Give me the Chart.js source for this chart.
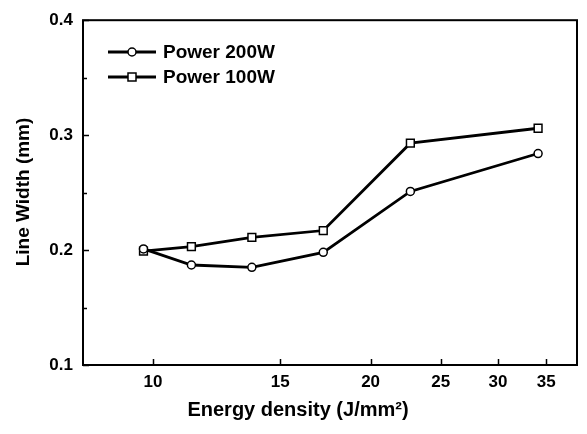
<!DOCTYPE html>
<html>
<head>
<meta charset="utf-8">
<script src="https://cdn.jsdelivr.net/npm/chart.js@4/dist/chart.umd.min.js"></script>
<style>
  html, body { margin: 0; padding: 0; background: #fff; }
  #c { display: block; }
</style>
</head>
<body>
<canvas id="c" width="587" height="434"></canvas>
<script>
// ---- data ----
const energyDensity = [9.7, 11.3, 13.7, 17.2, 22.7, 34.1];
const width200W = [0.201, 0.187, 0.185, 0.198, 0.251, 0.284];
const width100W = [0.199, 0.203, 0.211, 0.217, 0.293, 0.306];
const seriesNames = ['Power 200W', 'Power 100W'];
const xTickValues = [10, 15, 20, 25, 30, 35];
const yTickValues = [0.1, 0.2, 0.3, 0.4];
const yMinorTicks = [0.15, 0.25, 0.35];
const xTitle = 'Energy density (J/mm²)';
const yTitle = 'Line Width (mm)';

const FONT = '"Liberation Sans", Arial, Helvetica, sans-serif';

const toPoints = (xs, ys) => xs.map((x, i) => ({ x: x, y: ys[i] }));

const decorations = {
  id: 'decorations',
  afterDraw(chart) {
    const ctx = chart.ctx;
    const a = chart.chartArea;
    const xs = chart.scales.x, ys = chart.scales.y;
    ctx.save();
    ctx.strokeStyle = '#000';
    ctx.lineWidth = 2;
    ctx.strokeRect(a.left, a.top, a.right - a.left, a.bottom - a.top);
    // inward ticks
    ctx.lineWidth = 1.5;
    ctx.beginPath();
    xTickValues.forEach(v => {
      const px = Math.round(xs.getPixelForValue(v)) + 0.5;
      ctx.moveTo(px, a.bottom); ctx.lineTo(px, a.bottom - 6);
    });
    yTickValues.forEach(v => {
      const py = Math.round(ys.getPixelForValue(v)) + 0.5;
      ctx.moveTo(a.left, py); ctx.lineTo(a.left + 6, py);
    });
    yMinorTicks.forEach(v => {
      const py = Math.round(ys.getPixelForValue(v)) + 0.5;
      ctx.moveTo(a.left, py); ctx.lineTo(a.left + 4, py);
    });
    ctx.stroke();

    // legend
    const legendRows = [
      { y: 52, style: 'circle', text: seriesNames[0] },
      { y: 77, style: 'rect', text: seriesNames[1] }
    ];
    legendRows.forEach(r => {
      ctx.strokeStyle = '#000';
      ctx.lineWidth = 2.8;
      ctx.beginPath();
      ctx.moveTo(108, r.y); ctx.lineTo(156, r.y);
      ctx.stroke();
      ctx.fillStyle = '#fff';
      ctx.lineWidth = 1.5;
      if (r.style === 'circle') {
        ctx.beginPath(); ctx.arc(132, r.y, 4, 0, Math.PI * 2); ctx.fill(); ctx.stroke();
      } else {
        ctx.fillRect(128, r.y - 4, 8, 8); ctx.strokeRect(128, r.y - 4, 8, 8);
      }
      ctx.fillStyle = '#000';
      ctx.font = 'bold 19px ' + FONT;
      ctx.textAlign = 'left';
      ctx.textBaseline = 'middle';
      ctx.fillText(r.text, 163, r.y + 1);
    });

    // axis titles
    ctx.fillStyle = '#000';
    ctx.font = 'bold 20px ' + FONT;
    ctx.textAlign = 'center';
    ctx.textBaseline = 'middle';
    ctx.fillText(xTitle, 298, 410);
    ctx.save();
    ctx.translate(24, 192);
    ctx.rotate(-Math.PI / 2);
    ctx.font = 'bold 19px ' + FONT;
    ctx.fillText(yTitle, 0, 0);
    ctx.restore();
    ctx.restore();
  }
};

const lineStyle = {
  borderColor: '#000',
  borderWidth: 2.8,
  pointBackgroundColor: '#fff',
  pointBorderColor: '#000',
  pointBorderWidth: 1.5,
  tension: 0,
  fill: false
};

new Chart(document.getElementById('c'), {
  type: 'line',
  data: {
    datasets: [
      Object.assign({ label: seriesNames[0], data: toPoints(energyDensity, width200W), pointStyle: 'circle', pointRadius: 4 }, lineStyle),
      Object.assign({ label: seriesNames[1], data: toPoints(energyDensity, width100W), pointStyle: 'rect', pointRadius: 5.5 }, lineStyle)
    ]
  },
  options: {
    responsive: false,
    animation: false,
    devicePixelRatio: 1,
    layout: { padding: { top: 19, right: 10, left: 0, bottom: 0 } },
    plugins: { legend: { display: false }, tooltip: { enabled: false } },
    scales: {
      x: {
        type: 'logarithmic',
        min: 8,
        max: 38.6,
        afterBuildTicks: s => { s.ticks = xTickValues.map(v => ({ value: v })); },
        afterFit: s => { s.height = 69; },
        grid: { display: false, drawTicks: false },
        border: { display: false },
        ticks: {
          color: '#000',
          font: { family: FONT, size: 17, weight: 'bold' },
          padding: 7,
          maxRotation: 0,
          autoSkip: false,
          callback: v => String(v)
        }
      },
      y: {
        min: 0.1,
        max: 0.4,
        afterBuildTicks: s => { s.ticks = yTickValues.map(v => ({ value: v })); },
        afterFit: s => { s.width = 83; },
        grid: { display: false, drawTicks: false },
        border: { display: false },
        ticks: {
          color: '#000',
          font: { family: FONT, size: 17, weight: 'bold' },
          padding: 10,
          callback: v => Number(v).toFixed(1)
        }
      }
    }
  },
  plugins: [decorations]
});
</script>
</body>
</html>
